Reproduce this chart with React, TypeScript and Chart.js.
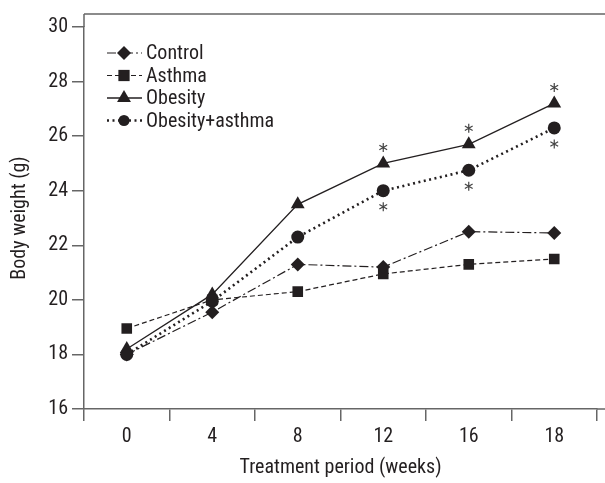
import React, { useEffect, useRef } from "react";
import { Chart, registerables } from "chart.js";

Chart.register(...registerables);

const weeks = ["0", "4", "8", "12", "16", "18"];
const seriesNames = ["Control", "Asthma", "Obesity", "Obesity+asthma"];
const control = [18.0, 19.55, 21.3, 21.2, 22.5, 22.45];
const asthma = [18.95, 20.0, 20.3, 20.95, 21.3, 21.5];
const obesity = [18.2, 20.2, 23.5, 25.0, 25.7, 27.2];
const obesityAsthma = [18.0, 19.95, 22.3, 24.0, 24.75, 26.3];
// significance markers: 1 = asterisk above (obesity) / below (obesity+asthma)
const obesitySig = [0, 0, 0, 1, 1, 1];
const obesityAsthmaSig = [0, 0, 0, 1, 1, 1];
const yTicks = [16, 18, 20, 22, 24, 26, 28, 30];

const INK = "#231f20";
const AXIS = "#666666";
const FONT = "'Roboto Condensed', 'Arial Narrow', Roboto, sans-serif";
const FS = 20;

function drawAsterisk(ctx: CanvasRenderingContext2D, x: number, y: number, r: number) {
  ctx.save();
  ctx.strokeStyle = "#444";
  ctx.lineWidth = 1.2;
  ctx.beginPath();
  for (let i = 0; i < 3; i++) {
    const a = Math.PI / 2 + (i * Math.PI) / 3;
    ctx.moveTo(x + r * Math.cos(a), y + r * Math.sin(a));
    ctx.lineTo(x - r * Math.cos(a), y - r * Math.sin(a));
  }
  ctx.stroke();
  ctx.restore();
}

function drawPointStyle(ctx: CanvasRenderingContext2D, style: string, r: number, x: number, y: number) {
  ctx.save();
  ctx.fillStyle = INK;
  ctx.beginPath();
  if (style === "rectRot") {
    ctx.moveTo(x, y - r);
    ctx.lineTo(x + r, y);
    ctx.lineTo(x, y + r);
    ctx.lineTo(x - r, y);
  } else if (style === "rect") {
    const s = r * 0.75;
    ctx.rect(x - s, y - s, 2 * s, 2 * s);
  } else if (style === "triangle") {
    ctx.moveTo(x, y - r);
    ctx.lineTo(x + r * 0.87, y + r * 0.5);
    ctx.lineTo(x - r * 0.87, y + r * 0.5);
  } else {
    ctx.arc(x, y, r * 0.85, 0, Math.PI * 2);
  }
  ctx.closePath();
  ctx.fill();
  ctx.restore();
}

const extrasPlugin = {
  id: "extras",
  afterDraw(chart: any) {
    const ctx = chart.ctx as CanvasRenderingContext2D;
    const area = chart.chartArea;
    const frameTop = 14;
    ctx.save();
    ctx.strokeStyle = AXIS;
    ctx.lineWidth = 1.5;
    ctx.beginPath();
    ctx.moveTo(area.left, frameTop);
    ctx.lineTo(chart.width, frameTop);
    ctx.moveTo(area.left, frameTop);
    ctx.lineTo(area.left, area.top);
    ctx.moveTo(area.right, area.bottom);
    ctx.lineTo(chart.width, area.bottom);
    ctx.stroke();
    ctx.restore();

    const m2 = chart.getDatasetMeta(2);
    const m3 = chart.getDatasetMeta(3);
    obesitySig.forEach((s, i) => {
      if (s) {
        const p = m2.data[i];
        drawAsterisk(ctx, p.x, p.y - 16, 4.5);
      }
    });
    obesityAsthmaSig.forEach((s, i) => {
      if (s) {
        const p = m3.data[i];
        drawAsterisk(ctx, p.x, p.y + 16, 4.5);
      }
    });

    const lx = 107;
    const ly = 53;
    const gap = 22.5;
    ctx.save();
    ctx.font = `${FS}px ${FONT}`;
    ctx.textBaseline = "middle";
    ctx.fillStyle = INK;
    chart.data.datasets.forEach((ds: any, i: number) => {
      const y = ly + i * gap;
      ctx.save();
      ctx.strokeStyle = INK;
      ctx.lineWidth = ds.borderWidth;
      ctx.setLineDash(ds.borderDash || []);
      ctx.beginPath();
      ctx.moveTo(lx, y);
      ctx.lineTo(lx + 35, y);
      ctx.stroke();
      ctx.restore();
      drawPointStyle(ctx, ds.pointStyle, ds.pointRadius, lx + 17, y);
      ctx.fillText(ds.label, lx + 39, y + 1);
    });
    ctx.restore();
  },
};

export default function App() {
  const ref = useRef<HTMLCanvasElement>(null);
  useEffect(() => {
    if (!ref.current) return;
    const mk = (label: string, data: number[], style: string, radius: number, dash: number[], width: number) => ({
      label,
      data,
      borderColor: INK,
      backgroundColor: INK,
      pointBackgroundColor: INK,
      pointBorderColor: INK,
      pointBorderWidth: 0,
      pointStyle: style,
      pointRadius: radius,
      borderWidth: width,
      borderDash: dash,
      tension: 0,
      fill: false,
    });
    const chart = new Chart(ref.current, {
      type: "line",
      data: {
        labels: weeks,
        datasets: [
          mk(seriesNames[0], control, "rectRot", 7, [9, 3, 2, 3], 1.2),
          mk(seriesNames[1], asthma, "rect", 7.5, [5, 3], 1.2),
          mk(seriesNames[2], obesity, "triangle", 8, [], 1.3),
          mk(seriesNames[3], obesityAsthma, "circle", 6.5, [2, 3.5], 2.6),
        ],
      },
      options: {
        responsive: false,
        animation: false,
        layout: { padding: { top: 27, right: 5, left: 0, bottom: 0 } },
        plugins: { legend: { display: false }, tooltip: { enabled: false } },
        scales: {
          x: {
            type: "category",
            offset: true,
            grid: { display: true, drawOnChartArea: false, offset: true, tickLength: 12, color: AXIS, lineWidth: 1.5 },
            border: { display: true, color: AXIS, width: 1.5 },
            ticks: { color: INK, font: { family: FONT, size: FS }, padding: 4 },
            title: { display: true, text: "Treatment period (weeks)", color: INK, font: { family: FONT, size: FS }, padding: { top: 4, bottom: 3 } },
            afterFit: (s: any) => { s.height = 74; },
          },
          y: {
            min: 16,
            max: 30,
            afterBuildTicks: (s: any) => { s.ticks = yTicks.map((v) => ({ value: v })); },
            grid: { display: true, drawOnChartArea: false, tickLength: 12, color: AXIS, lineWidth: 1.5 },
            border: { display: true, color: AXIS, width: 1.5 },
            ticks: { color: INK, font: { family: FONT, size: FS }, padding: 4 },
            title: { display: true, text: "Body weight (g)", color: INK, font: { family: FONT, size: FS }, padding: { top: 8, bottom: 4 } },
            afterFit: (s: any) => { s.width = 84; },
          },
        },
      },
      plugins: [extrasPlugin],
    });
    return () => chart.destroy();
  }, []);
  return (
    <div style={{ position: "absolute", left: 0, top: 0, width: 605, height: 483, background: "#fff" }}>
      <canvas ref={ref} width={605} height={483} />
    </div>
  );
}
